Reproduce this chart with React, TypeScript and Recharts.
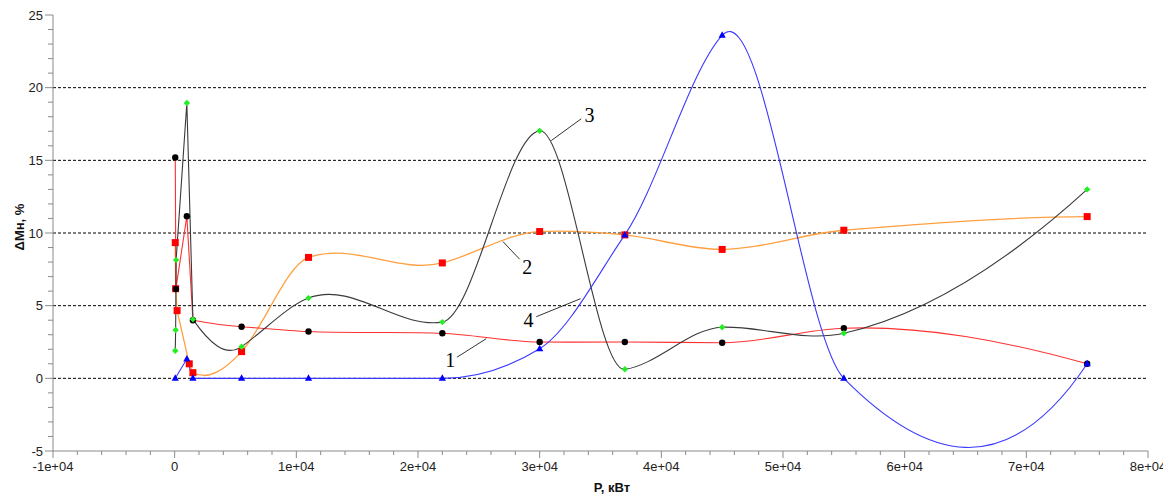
import React from 'react';
import { LineChart, Line, XAxis, YAxis, ReferenceLine, ReferenceDot } from 'recharts';

// Series 1 (red line, black circles)
const p1 = [50, 100, 1000, 1500, 5500, 11000, 22000, 30000, 37000, 45000, 55000, 75000];
const m1 = [15.2, 6.15, 11.15, 4.0, 3.55, 3.22, 3.1, 2.5, 2.5, 2.45, 3.45, 1.0];
// Series 2 (orange line, red squares)
const p2 = [50, 80, 200, 1200, 1500, 5500, 11000, 22000, 30000, 37000, 45000, 55000, 75000];
const m2 = [9.34, 6.17, 4.66, 1.0, 0.39, 1.84, 8.32, 7.94, 10.1, 9.87, 8.87, 10.19, 11.13];
// Series 3 (dark line, green diamonds)
const p3 = [50, 80, 120, 1000, 1500, 5500, 11000, 22000, 30000, 37000, 45000, 55000, 75000];
const m3 = [1.9, 3.33, 8.15, 18.94, 4.06, 2.18, 5.52, 3.87, 17.03, 0.62, 3.52, 3.1, 13.0];
// Series 4 (blue line, blue triangles)
const p4 = [50, 1000, 1500, 5500, 11000, 22000, 30000, 37000, 45000, 55000, 75000];
const m4 = [0, 1.33, 0, 0, 0, 0, 2.04, 9.87, 23.6, 0, 1.0];

const xMajor = [-10000, 0, 10000, 20000, 30000, 40000, 50000, 60000, 70000, 80000];
const xMajorLabels = ['-1e+04', '0', '1e+04', '2e+04', '3e+04', '4e+04', '5e+04', '6e+04', '7e+04', '8e+04'];
const yMajor = [-5, 0, 5, 10, 15, 20, 25];
const gridValues = [0, 5, 10, 15, 20];

// annotation leader lines [x1, y1, x2, y2] and label positions
const leaders = [
  { n: '1', seg: [25610, 2.73, 23200, 1.45], lab: [22650, 1.25] },
  { n: '2', seg: [26980, 9.41, 28350, 8.2], lab: [28980, 7.7] },
  { n: '3', seg: [30950, 16.36, 33420, 17.86], lab: [34100, 18.1] },
  { n: '4', seg: [33360, 5.48, 29720, 4.24], lab: [29090, 4.05] },
];

const toPts = (xs: number[], ys: number[]) => xs.map((x, i) => ({ x, y: ys[i] }));
const s1 = toPts(p1, m1);
const s2 = toPts(p2, m2);
const s3 = toPts(p3, m3);
const s4 = toPts(p4, m4);

const xTicks: number[] = [];
for (let v = -10000; v <= 80000; v += 2000) xTicks.push(v);
const yTicks: number[] = [];
for (let v = -5; v <= 25; v += 1) yTicks.push(v);

// Akima spline curve factory (interpolation as a function of x);
// segments that are only a few pixels wide are drawn straight.
const NARROW_PX = 15;
const akimaCurve = (context: any) => {
  let xs: number[] = [];
  let ys: number[] = [];
  return {
    areaStart() {},
    areaEnd() {},
    lineStart() {
      xs = [];
      ys = [];
    },
    point(x: number, y: number) {
      xs.push(+x);
      ys.push(+y);
    },
    lineEnd() {
      const n = xs.length;
      if (n === 0) return;
      context.moveTo(xs[0], ys[0]);
      if (n === 1) return;
      if (n === 2) {
        context.lineTo(xs[1], ys[1]);
        return;
      }
      const dxs: number[] = [];
      const sl: number[] = [];
      for (let i = 0; i < n - 1; i++) {
        const dx = Math.max(xs[i + 1] - xs[i], 1e-6);
        dxs.push(dx);
        sl.push((ys[i + 1] - ys[i]) / dx);
      }
      const m: number[] = new Array(n + 3);
      for (let i = 0; i < n - 1; i++) m[i + 2] = sl[i];
      m[1] = 2 * m[2] - m[3];
      m[0] = 2 * m[1] - m[2];
      m[n + 1] = 2 * m[n] - m[n - 1];
      m[n + 2] = 2 * m[n + 1] - m[n];
      const tg: number[] = [];
      for (let i = 0; i < n; i++) {
        const mm2 = m[i];
        const mm1 = m[i + 1];
        const m0 = m[i + 2];
        const mp1 = m[i + 3];
        const w1 = Math.abs(mp1 - m0);
        const w2 = Math.abs(mm1 - mm2);
        if (w1 + w2 < 1e-12) tg.push((mm1 + m0) / 2);
        else tg.push((w1 * mm1 + w2 * m0) / (w1 + w2));
      }
      for (let i = 0; i < n - 1; i++) {
        const h = dxs[i];
        if (h < NARROW_PX) {
          context.lineTo(xs[i + 1], ys[i + 1]);
          continue;
        }
        context.bezierCurveTo(
          xs[i] + h / 3,
          ys[i] + (tg[i] * h) / 3,
          xs[i + 1] - h / 3,
          ys[i + 1] - (tg[i + 1] * h) / 3,
          xs[i + 1],
          ys[i + 1]
        );
      }
    },
  };
};

const AX = '#8a8a8a';
const tickFont = { fontFamily: 'Liberation Sans, Arial, sans-serif', fontSize: 13, fill: '#222' };

const YTick = (props: any) => {
  const { x, y, payload } = props;
  const idx = yMajor.indexOf(payload.value);
  const major = idx >= 0;
  return (
    <g>
      <line x1={x} x2={x - (major ? 8 : 5)} y1={y} y2={y} stroke={AX} />
      {major && (
        <text x={x - 10} y={y} textAnchor="end" dominantBaseline="central" {...tickFont}>
          {String(yMajor[idx])}
        </text>
      )}
    </g>
  );
};

const XTick = (props: any) => {
  const { x, y, payload } = props;
  const idx = xMajor.indexOf(payload.value);
  const major = idx >= 0;
  return (
    <g>
      <line x1={x} x2={x} y1={y} y2={y + (major ? 7 : 4)} stroke={AX} />
      {major && (
        <text x={x} y={y + 15} textAnchor="middle" dominantBaseline="central" {...tickFont}>
          {xMajorLabels[idx]}
        </text>
      )}
    </g>
  );
};

const Circle = (p: any) => <circle key={p.key} cx={p.cx} cy={p.cy} r={3.2} fill="#000" />;
const Square = (p: any) => <rect key={p.key} x={p.cx - 3.5} y={p.cy - 3.5} width={7} height={7} fill="#ff0000" />;
const Diamond = (p: any) => (
  <path key={p.key} d={`M${p.cx},${p.cy - 3.2}L${p.cx + 3.2},${p.cy}L${p.cx},${p.cy + 3.2}L${p.cx - 3.2},${p.cy}Z`} fill="#22ee22" />
);
const Tri = (p: any) => (
  <path key={p.key} d={`M${p.cx},${p.cy - 4}L${p.cx + 3.6},${p.cy + 2.5}L${p.cx - 3.6},${p.cy + 2.5}Z`} fill="#0000ff" />
);

export default function App() {
  return (
    <div style={{ position: 'relative', width: 1163, height: 489 }}>
      <LineChart width={1163} height={489} margin={{ top: 7, right: 23, bottom: 0, left: 0 }}>
        <XAxis
          dataKey="x"
          type="number"
          domain={[-10000, 80000]}
          ticks={xTicks}
          interval={0}
          tickSize={0}
          tickMargin={0}
          tick={<XTick />}
          tickLine={false}
          axisLine={{ stroke: AX }}
          height={46}
          allowDataOverflow
        />
        <YAxis
          dataKey="y"
          type="number"
          domain={[-5, 25]}
          ticks={yTicks}
          interval={0}
          tickSize={0}
          tickMargin={0}
          tick={<YTick />}
          tickLine={false}
          axisLine={{ stroke: AX }}
          width={45}
          allowDataOverflow
        />
        {gridValues.map((g) => (
          <ReferenceLine key={'g' + g} y={g} stroke="#000" strokeDasharray="3 2" strokeWidth={1} />
        ))}
        <Line data={s2} dataKey="y" type={akimaCurve as any} stroke="#ffa040" strokeWidth={1.3} dot={Square} activeDot={false} isAnimationActive={false} />
        <Line data={s1} dataKey="y" type={akimaCurve as any} stroke="#ff3030" strokeWidth={1.1} dot={Circle} activeDot={false} isAnimationActive={false} />
        <Line data={s3} dataKey="y" type={akimaCurve as any} stroke="#3a3a3a" strokeWidth={1.1} dot={Diamond} activeDot={false} isAnimationActive={false} />
        <Line data={s4} dataKey="y" type={akimaCurve as any} stroke="#3a3aff" strokeWidth={1.1} dot={Tri} activeDot={false} isAnimationActive={false} />
        {leaders.map((l) => (
          <ReferenceLine
            key={'l' + l.n}
            segment={[{ x: l.seg[0], y: l.seg[1] }, { x: l.seg[2], y: l.seg[3] }]}
            stroke="#000"
            strokeWidth={0.8}
          />
        ))}
        {leaders.map((l) => (
          <ReferenceDot
            key={'d' + l.n}
            x={l.lab[0]}
            y={l.lab[1]}
            r={0}
            fill="none"
            stroke="none"
            label={{ value: l.n, position: 'center', fontFamily: 'Liberation Serif, Times New Roman, serif', fontSize: 20, fill: '#000' }}
          />
        ))}
      </LineChart>
      <div
        style={{
          position: 'absolute',
          left: 11,
          top: 219,
          transform: 'translate(-50%, -50%) rotate(-90deg)',
          fontFamily: 'Liberation Sans, Arial, sans-serif',
          fontWeight: 'bold',
          fontSize: 13,
          whiteSpace: 'nowrap',
          color: '#111',
        }}
      >
        ΔMн, %
      </div>
      <div
        style={{
          position: 'absolute',
          left: 604,
          top: 479,
          transform: 'translate(-50%, -50%)',
          fontFamily: 'Liberation Sans, Arial, sans-serif',
          fontWeight: 'bold',
          fontSize: 13,
          whiteSpace: 'nowrap',
          color: '#111',
        }}
      >
        P, кВт
      </div>
    </div>
  );
}
